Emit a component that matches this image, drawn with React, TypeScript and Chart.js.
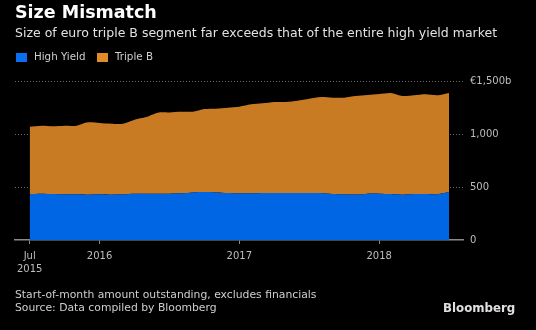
import React, { useEffect, useRef } from 'react';
import { Chart, registerables } from 'chart.js';

Chart.register(...registerables);

// Monthly, Jul 2015 .. Jul 2018 (start-of-month), € billions
const months = [
  'Jul 2015', 'Aug 2015', 'Sep 2015', 'Oct 2015', 'Nov 2015', 'Dec 2015',
  'Jan 2016', 'Feb 2016', 'Mar 2016', 'Apr 2016', 'May 2016', 'Jun 2016',
  'Jul 2016', 'Aug 2016', 'Sep 2016', 'Oct 2016', 'Nov 2016', 'Dec 2016',
  'Jan 2017', 'Feb 2017', 'Mar 2017', 'Apr 2017', 'May 2017', 'Jun 2017',
  'Jul 2017', 'Aug 2017', 'Sep 2017', 'Oct 2017', 'Nov 2017', 'Dec 2017',
  'Jan 2018', 'Feb 2018', 'Mar 2018', 'Apr 2018', 'May 2018', 'Jun 2018',
  'Jul 2018',
];

const highYield = [
  434, 437, 434, 431, 431, 428, 431, 428, 431, 437, 437, 437,
  437, 440, 449, 452, 449, 443, 440, 440, 443, 443, 443, 443,
  443, 443, 434, 431, 429, 437, 437, 434, 428, 434, 434, 431,
  452,
];

const tripleB = [
  635, 641, 638, 647, 647, 682, 673, 669, 666, 698, 723, 764,
  767, 770, 761, 784, 790, 805, 818, 840, 846, 859, 859, 871,
  890, 906, 909, 912, 929, 931, 940, 953, 930, 931, 940, 934,
  935,
];

const xTickIndexes = [0, 6, 18, 30];
const xTickLabels: (string | string[])[] = [['Jul', '2015'], '2016', '2017', '2018'];
const yTickValues = [0, 500, 1000, 1500];
const yTickLabels = ['0', '500', '1,000', '€1,500b'];

const seriesNames = ['High Yield', 'Triple B'];
const seriesColors = ['#0066e3', '#c87b22'];
const legendColors = ['#0a6ff0', '#e08c28'];

export default function App() {
  const canvasRef = useRef<HTMLCanvasElement | null>(null);

  useEffect(() => {
    document.body.style.margin = '0';
    document.body.style.background = '#000';
    const canvas = canvasRef.current;
    if (!canvas) return;
    const chart = new Chart(canvas, {
      type: 'line',
      data: {
        labels: months,
        datasets: [
          {
            label: seriesNames[0],
            data: highYield.map((v, i) => ({ x: i, y: v })),
            backgroundColor: seriesColors[0],
            borderColor: seriesColors[0],
            borderWidth: 0,
            pointRadius: 0,
            fill: 'origin',
            tension: 0.25,
          },
          {
            label: seriesNames[1],
            data: tripleB.map((v, i) => ({ x: i, y: v })),
            backgroundColor: seriesColors[1],
            borderColor: seriesColors[1],
            borderWidth: 0,
            pointRadius: 0,
            fill: '-1',
            tension: 0.25,
          },
        ],
      },
      options: {
        animation: false,
        responsive: false,
        maintainAspectRatio: false,
        layout: { padding: { left: 15, top: 81, right: 0, bottom: 0 } },
        plugins: { legend: { display: false }, tooltip: { enabled: false } },
        scales: {
          x: {
            type: 'linear',
            min: -1.26,
            max: 37.2,
            afterBuildTicks: (scale: any) => {
              scale.ticks = xTickIndexes.map((v) => ({ value: v }));
            },
            afterFit: (scale: any) => {
              scale.height = 90;
            },
            grid: {
              display: true,
              drawOnChartArea: false,
              drawTicks: true,
              tickLength: 4,
              color: '#8a8a8a',
            },
            border: { display: true, color: '#8a8a8a', width: 1.5 },
            ticks: {
              autoSkip: false,
              maxRotation: 0,
              padding: 6,
              color: '#bdbdbd',
              font: { family: 'DejaVu Sans', size: 10, lineHeight: 1.3 },
              callback: (v: any) => {
                const idx = xTickIndexes.indexOf(Number(v));
                return idx >= 0 ? xTickLabels[idx] : '';
              },
            },
          },
          y: {
            position: 'right',
            stacked: true,
            min: 0,
            max: 1500,
            afterBuildTicks: (scale: any) => {
              scale.ticks = yTickValues.map((v) => ({ value: v }));
            },
            afterFit: (scale: any) => {
              scale.width = 73;
            },
            grid: {
              drawTicks: false,
              color: (ctx: any) => (ctx.tick && ctx.tick.value === 0 ? 'rgba(0,0,0,0)' : '#6a6a6a'),
              lineWidth: 1,
            },
            border: { display: false, dash: [1, 2] },
            ticks: {
              padding: 7,
              color: '#bdbdbd',
              font: { family: 'DejaVu Sans', size: 10 },
              callback: (v: any) => {
                const idx = yTickValues.indexOf(Number(v));
                return idx >= 0 ? yTickLabels[idx] : '';
              },
            },
          },
        },
      },
    } as any);
    return () => chart.destroy();
  }, []);

  const font = '"DejaVu Sans", sans-serif';
  const abs = (o: React.CSSProperties): React.CSSProperties => ({
    position: 'absolute',
    whiteSpace: 'nowrap',
    fontFamily: font,
    lineHeight: 1,
    ...o,
  });

  return (
    <div style={{ position: 'relative', width: 536, height: 330, background: '#000', overflow: 'hidden' }}>
      <canvas ref={canvasRef} width={536} height={330} style={{ position: 'absolute', left: 0, top: 0 }} />
      <div style={abs({ left: 15, top: 4.2, fontSize: 17.5, fontWeight: 'bold', color: '#ffffff' })}>Size Mismatch</div>
      <div style={abs({ left: 15, top: 26.7, fontSize: 12.5, color: '#e2e2e2' })}>
        Size of euro triple B segment far exceeds that of the entire high yield market
      </div>
      <div style={abs({ left: 16, top: 53, width: 11, height: 9, background: legendColors[0] })} />
      <div style={abs({ left: 34, top: 51.3, fontSize: 10.3, color: '#cfcfcf' })}>{seriesNames[0]}</div>
      <div style={abs({ left: 97, top: 53, width: 11, height: 9, background: legendColors[1] })} />
      <div style={abs({ left: 115, top: 51.3, fontSize: 10.3, color: '#cfcfcf' })}>{seriesNames[1]}</div>
      <div style={abs({ left: 15, top: 289.9, fontSize: 10.8, color: '#cfcfcf' })}>
        Start-of-month amount outstanding, excludes financials
      </div>
      <div style={abs({ left: 15, top: 302.6, fontSize: 10.8, color: '#cfcfcf' })}>
        Source: Data compiled by Bloomberg
      </div>
      <div style={abs({ left: 443, top: 303.3, fontSize: 11.8, fontWeight: 'bold', color: '#e0e0e0' })}>Bloomberg</div>
    </div>
  );
}
